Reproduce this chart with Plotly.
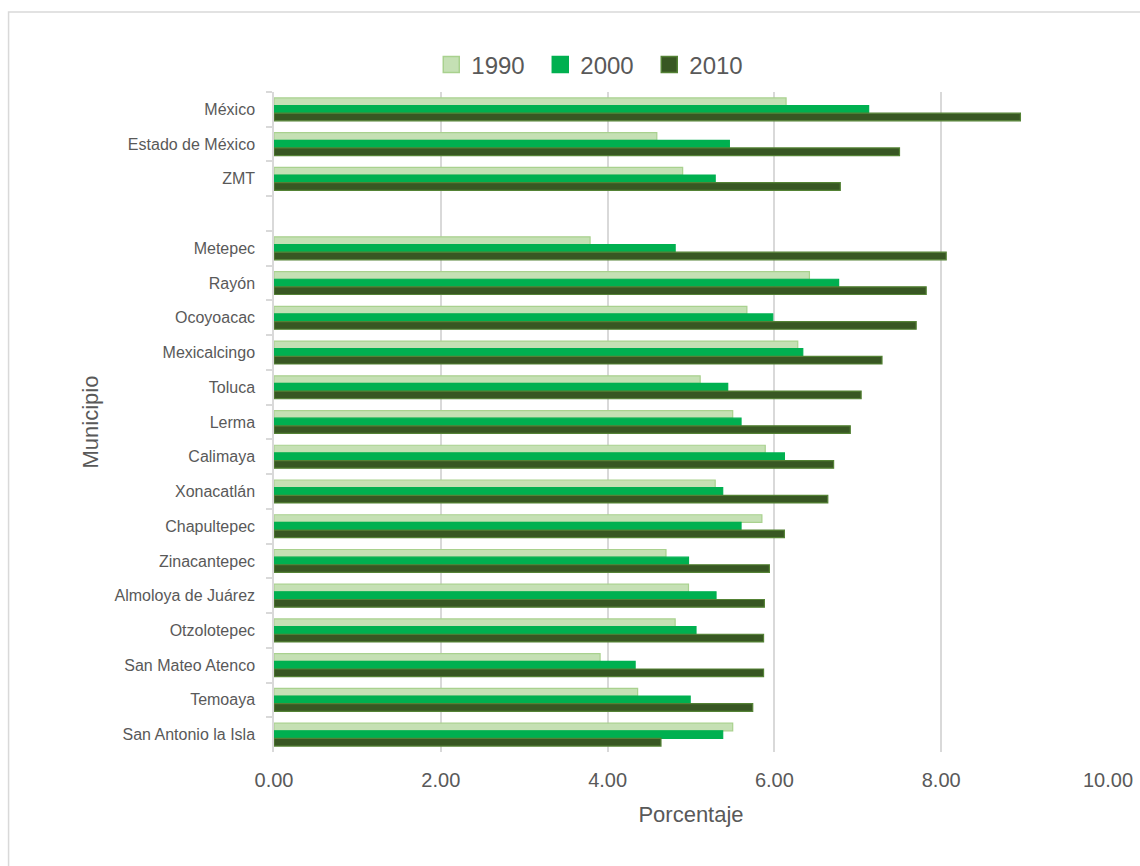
import plotly.graph_objects as go

categories = ["México", "Estado de México", "ZMT", " ", "Metepec", "Rayón", "Ocoyoacac",
              "Mexicalcingo", "Toluca", "Lerma", "Calimaya", "Xonacatlán", "Chapultepec",
              "Zinacantepec", "Almoloya de Juárez", "Otzolotepec", "San Mateo Atenco",
              "Temoaya", "San Antonio la Isla"]

v1990 = [6.14, 4.59, 4.90, None, 3.79, 6.42, 5.67, 6.28, 5.11, 5.50, 5.89, 5.29, 5.85,
         4.70, 4.97, 4.81, 3.91, 4.36, 5.50]
v2000 = [7.13, 5.46, 5.29, None, 4.81, 6.77, 5.98, 6.34, 5.44, 5.60, 6.12, 5.38, 5.60,
         4.97, 5.30, 5.06, 4.33, 4.99, 5.38]
v2010 = [8.95, 7.50, 6.79, None, 8.06, 7.82, 7.70, 7.29, 7.04, 6.91, 6.71, 6.64, 6.12,
         5.94, 5.88, 5.87, 5.87, 5.74, 4.64]

series_names = ["1990", "2000", "2010"]
fills = ["#C5E0B4", "#00B050", "#385723"]
borders = ["#A9D18E", "#00B050", "#548235"]

W, H = 1140, 866
L, R, T, B = 273.5, W - 1107.7, 92, H - 752
pw, ph = W - L - R, H - T - B

fig = go.Figure()
for name, vals, fc, bc in zip(series_names, [v1990, v2000, v2010], fills, borders):
    fig.add_trace(go.Bar(
        y=categories, x=vals, name=name, orientation="h", showlegend=False,
        marker=dict(color=fc, line=dict(color=bc, width=1.2)),
    ))
for name, fc, bc in zip(series_names, fills, borders):
    fig.add_trace(go.Scatter(
        x=[None], y=[None], name=name, mode="markers", showlegend=True,
        marker=dict(symbol="square", size=16, color=fc, line=dict(color=bc, width=1.5)),
    ))

fig.update_layout(
    width=W, height=H,
    margin=dict(l=L, r=R, t=T, b=B, autoexpand=False),
    paper_bgcolor="white", plot_bgcolor="white",
    barmode="group", bargap=0.34, bargroupgap=0,
    font=dict(family="Liberation Sans, Arial, sans-serif", color="#595959"),
    legend=dict(orientation="h", x=(445 - L) / pw - 0.017, xanchor="left",
                y=(752 - 65) / ph, yanchor="middle",
                font=dict(size=24, color="#595959"), traceorder="normal",
                itemwidth=30, entrywidth=64, entrywidthmode="pixels",
                bgcolor="rgba(0,0,0,0)"),
    xaxis=dict(range=[0, 10], dtick=2, tickformat=".2f", showgrid=True,
               gridcolor="#D9D9D9", gridwidth=1.5, zeroline=False, showline=False,
               ticks="", tickfont=dict(size=20, color="#595959"),
               ticklabelstandoff=14, automargin=False,
               title=dict(text="Porcentaje", font=dict(size=22, color="#595959"),
                          standoff=16)),
    yaxis=dict(categoryorder="array", categoryarray=categories, autorange="reversed",
               type="category", showgrid=False, zeroline=False,
               showline=True, linecolor="#D9D9D9", linewidth=1.5,
               ticks="outside", tickson="boundaries", ticklen=6, tickcolor="#D9D9D9",
               tickwidth=1.5, tickfont=dict(size=16, color="#595959"),
               ticklabelstandoff=14, automargin=False,
               title=dict(text="Municipio", font=dict(size=22, color="#595959"),
                          standoff=10)),
)

fig.add_shape(type="rect", xref="paper", yref="paper",
              x0=(8 - L) / pw, x1=(1150 - L) / pw,
              y0=(752 - 880) / ph, y1=(752 - 12) / ph,
              line=dict(color="#D9D9D9", width=1.5), fillcolor="rgba(0,0,0,0)",
              layer="below")

fig.write_html("out.html")
